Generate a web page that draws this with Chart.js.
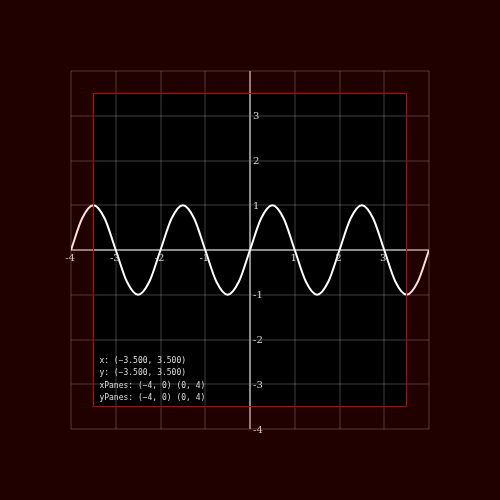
<!DOCTYPE html>
<html>
<head>
<meta charset="utf-8">
<script src="https://cdn.jsdelivr.net/npm/chart.js@4/dist/chart.umd.min.js"></script>
<style>
  html, body { margin: 0; padding: 0; background: #200000; }
  #wrap { width: 500px; height: 500px; }
</style>
</head>
<body>
<div id="wrap"><canvas id="sineChart" width="500" height="500"></canvas></div>
<script>
// curve samples (peaks at +-1, zero crossings at the integers)
const xValues = [-4, -3.75, -3.5, -3.25, -3, -2.75, -2.5, -2.25, -2, -1.75, -1.5, -1.25, -1, -0.75, -0.5, -0.25,
                 0, 0.25, 0.5, 0.75, 1, 1.25, 1.5, 1.75, 2, 2.25, 2.5, 2.75, 3, 3.25, 3.5, 3.75, 4];
const yValues = [0, 0.71, 1, 0.71, 0, -0.71, -1, -0.71, 0, 0.71, 1, 0.71, 0, -0.71, -1, -0.71,
                 0, 0.71, 1, 0.71, 0, -0.71, -1, -0.71, 0, 0.71, 1, 0.71, 0, -0.71, -1, -0.71, 0];

// axis ranges and tick labels
const axisRange = [-4, 4];
const xTickLabels = [-4, -3, -2, -1, 1, 2, 3];
const yTickLabels = [3, 2, 1, -1, -2, -3, -4];

// visible window (the black box)
const windowX = [-3.5, 3.5];
const windowY = [-3.5, 3.5];

const infoLines = [
    'x: (\u22123.500, 3.500)',
    'y: (\u22123.500, 3.500)',
    'xPanes: (\u22124, 0) (0, 4)',
    'yPanes: (\u22124, 0) (0, 4)'
];

const points = xValues.map((x, i) => ({ x: x, y: yValues[i] }));

// background + axis lines through the origin
const underlayPlugin = {
    id: 'underlay',
    beforeDraw(chart) {
        const ctx = chart.ctx;
        ctx.save();
        ctx.fillStyle = '#000';
        ctx.fillRect(0, 0, chart.width, chart.height);
        ctx.restore();
    },
    beforeDatasetsDraw(chart) {
        const { ctx, chartArea, scales } = chart;
        const x0 = scales.x.getPixelForValue(0);
        const y0 = scales.y.getPixelForValue(0);
        ctx.save();
        ctx.strokeStyle = '#8c8c8c';
        ctx.lineWidth = 2;
        ctx.beginPath();
        ctx.moveTo(chartArea.left, y0);
        ctx.lineTo(chartArea.right, y0);
        ctx.moveTo(x0, chartArea.top);
        ctx.lineTo(x0, chartArea.bottom);
        ctx.stroke();
        ctx.restore();
    }
};

// tick labels, red tint outside the window, window frame, info text
const overlayPlugin = {
    id: 'overlay',
    afterDatasetsDraw(chart) {
        const { ctx, scales } = chart;
        const sx = scales.x, sy = scales.y;
        const x0 = sx.getPixelForValue(0);
        const y0 = sy.getPixelForValue(0);

        ctx.save();
        ctx.fillStyle = '#d8d8d8';
        ctx.font = '10px "DejaVu Serif", serif';
        ctx.textAlign = 'center';
        ctx.textBaseline = 'top';
        xTickLabels.forEach(v => {
            ctx.fillText(String(v), sx.getPixelForValue(v) - 1, y0 + 3);
        });
        ctx.textAlign = 'left';
        ctx.textBaseline = 'middle';
        yTickLabels.forEach(v => {
            ctx.fillText(String(v), x0 + 3, sy.getPixelForValue(v) + 1);
        });

        const left = sx.getPixelForValue(windowX[0]);
        const right = sx.getPixelForValue(windowX[1]);
        const top = sy.getPixelForValue(windowY[1]);
        const bottom = sy.getPixelForValue(windowY[0]);

        // tint everything outside the window
        ctx.fillStyle = 'rgba(255, 0, 0, 0.13)';
        ctx.beginPath();
        ctx.rect(0, 0, chart.width, chart.height);
        ctx.rect(right, top, left - right, bottom - top);
        ctx.fill('evenodd');

        ctx.strokeStyle = '#c80000';
        ctx.lineWidth = 1;
        ctx.strokeRect(Math.round(left) + 0.5, Math.round(top) + 0.5,
                       Math.round(right - left), Math.round(bottom - top));

        ctx.fillStyle = '#dcdcdc';
        ctx.font = '8px "DejaVu Sans Mono", monospace';
        ctx.textAlign = 'left';
        ctx.textBaseline = 'middle';
        infoLines.forEach((line, i) => {
            ctx.fillText(line, left + 6, bottom - 46 + i * 12.4);
        });
        ctx.restore();
    }
};

const config = {
    type: 'scatter',
    data: {
        datasets: [{
            data: points,
            showLine: true,
            borderColor: '#ffffff',
            borderWidth: 2,
            pointRadius: 0,
            cubicInterpolationMode: 'monotone',
            fill: false
        }]
    },
    options: {
        responsive: false,
        animation: false,
        layout: { padding: { left: 71, right: 71, top: 71, bottom: 71 } },
        plugins: {
            legend: { display: false },
            tooltip: { enabled: false }
        },
        scales: {
            x: {
                type: 'linear',
                min: axisRange[0],
                max: axisRange[1],
                ticks: { display: false, stepSize: 1 },
                border: { display: false },
                grid: { color: 'rgba(255,255,255,0.12)', lineWidth: 2, drawTicks: false }
            },
            y: {
                type: 'linear',
                min: axisRange[0],
                max: axisRange[1],
                ticks: { display: false, stepSize: 1 },
                border: { display: false },
                grid: { color: 'rgba(255,255,255,0.12)', lineWidth: 2, drawTicks: false }
            }
        }
    },
    plugins: [underlayPlugin, overlayPlugin]
};

const ctx = document.getElementById('sineChart').getContext('2d');
new Chart(ctx, config);
</script>
</body>
</html>
